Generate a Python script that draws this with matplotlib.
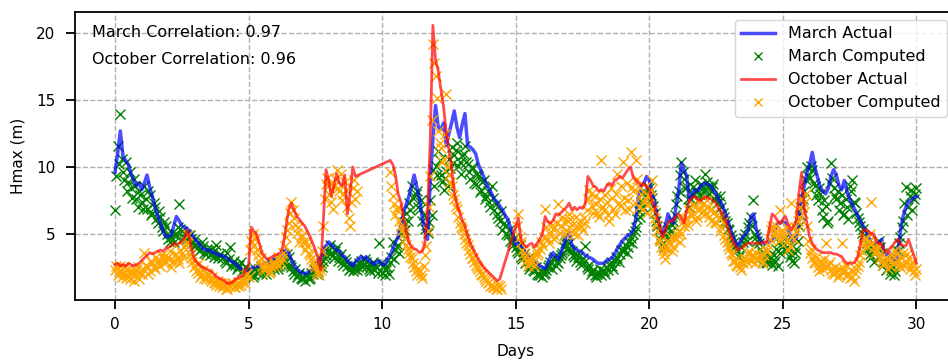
import numpy as np
import matplotlib
matplotlib.use("Agg")
import matplotlib.pyplot as plt

nan = np.nan

# Hmax (m), one value every 0.1 day (day 0.0 ... 30.0)
march_actual = [
    9.6, 11.0, 12.7, 10.8, 10.5, 10.2, 9.5, 9.0, 8.6, 8.8,
    8.3, 8.8, 9.4, 8.5, 7.8, 7.0, 6.4, 5.8, 5.2, 4.8,
    4.8, 4.9, 5.6, 6.3, 6.0, 5.6, 5.5, 5.4, 5.2, 4.9,
    4.6, 4.4, 4.1, 3.9, 3.8, 3.8, 3.7, 3.6, 3.5, 3.4,
    3.4, 3.3, 3.2, 3.0, 2.9, 2.8, 2.6, 2.4, 2.3, 2.2,
    2.1, 2.4, 2.5, 2.6, 2.6, 2.7, 2.8, 2.8, 2.9, 3.0,
    3.1, 3.2, 3.3, 3.5, 3.8, 3.6, 3.1, 2.7, 2.4, 2.2,
    2.1, 2.0, 2.1, 2.2, 2.4, 2.6, 2.9, 3.2, 3.7, 4.1,
    4.4, 4.2, 4.0, 3.8, 3.7, 3.4, 3.3, 3.0, 2.8, 2.6,
    2.9, 3.1, 3.3, 3.1, 3.3, 3.0, 2.9, 2.7, 2.9, 3.0,
    2.7, 2.7, 3.1, 3.4, 3.9, 4.4, 4.8, 5.6, 6.6, 7.2,
    7.8, 8.6, 9.4, 8.5, 7.6, 6.2, 5.2, 4.6, 9.0, 12.1,
    14.6, 13.0, 12.8, 13.3, 11.6, 12.5, 13.3, 14.2, 13.0, 12.2,
    13.2, 14.0, 11.6, 11.5, 11.3, 11.0, 10.2, 9.7, 9.3, 8.7,
    8.4, 8.0, 7.6, 7.4, 7.1, 6.8, 6.4, 6.1, 5.5, 4.9,
    4.2, 4.3, 4.0, 3.8, 3.5, 3.3, 3.1, 2.9, 2.8, 2.6,
    2.5, 2.4, 2.8, 3.3, 3.6, 3.3, 3.1, 3.6, 4.2, 4.9,
    5.1, 4.2, 3.9, 3.8, 3.7, 3.6, 3.4, 3.3, 3.2, 3.1,
    2.9, 2.8, 2.8, 2.8, 3.0, 3.1, 3.2, 3.5, 3.9, 4.2,
    4.5, 4.7, 4.9, 5.0, 5.3, 6.2, 7.8, 8.6, 8.8, 9.3,
    9.0, 8.1, 7.3, 6.3, 5.5, 4.8, 5.6, 6.5, 6.0, 5.8,
    7.0, 8.3, 10.3, 9.8, 9.3, 7.5, 7.9, 8.3, 8.2, 8.5,
    8.7, 8.8, 8.7, 8.6, 8.3, 8.0, 7.6, 7.3, 6.8, 6.3,
    5.6, 5.0, 4.5, 4.1, 4.4, 4.8, 5.0, 5.3, 6.3, 6.5,
    5.4, 4.8, 4.4, 4.3, 4.3, 4.5, 4.5, 5.3, 5.8, 5.8,
    5.9, 5.8, 5.2, 4.8, 4.4, 4.6, 6.0, 7.5, 8.6, 9.6,
    10.2, 11.1, 10.0, 9.2, 8.5, 8.2, 8.0, 8.4, 9.3, 9.8,
    9.4, 8.6, 8.3, 9.0, 8.2, 7.6, 7.2, 6.8, 6.4, 6.0,
    5.6, 5.3, 4.8, 4.3, 4.2, 4.1, 4.4, 4.6, 3.4, 3.4,
    3.6, 3.2, 2.8, 3.5, 5.2, 6.3, 7.0, 7.4, 7.5, 7.7,
    7.8,
]

october_actual = [
    2.7, 2.8, 2.6, 2.7, 2.6, 2.8, 2.7, 2.6, 2.7, 2.8,
    3.0, 3.2, 3.4, 3.6, 3.5, 3.6, 3.7, 3.8, 3.7, 3.9,
    4.0, 4.1, 4.3, 4.2, 4.3, 4.4, 4.7, 5.3, 4.6, 3.6,
    3.0, 2.8, 2.6, 2.5, 2.4, 2.3, 2.2, 2.0, 1.8, 1.7,
    1.6, 1.5, 1.3, 1.3, 1.4, 1.6, 1.7, 1.8, 1.9, 2.3,
    2.6, 5.5, 5.2, 5.0, 4.3, 3.6, 3.3, 3.1, 3.2, 3.3,
    3.4, 3.5, 3.6, 4.2, 5.5, 6.8, 7.3, 6.8, 6.3, 6.1,
    5.8, 5.6, 5.2, 4.8, 4.3, 3.8, 3.2, 2.3, 6.0, 9.8,
    9.0, 7.8, 8.6, 9.5, 8.8, 8.6, 9.4, 6.5, 8.0, 10.0,
    9.3, nan, nan, nan, nan, nan, nan, nan, nan, nan,
    nan, nan, nan, 10.5, 10.2, 9.4, 8.0, 7.4, 6.3, 5.2,
    4.4, 4.0, 3.9, 3.8, 3.6, 3.7, 4.3, 6.6, 12.0, 20.6,
    18.0, 17.2, 15.8, 14.5, 12.6, 11.3, 10.0, 8.1, 7.2, 6.6,
    6.0, 5.6, 4.9, 4.3, 3.9, 3.5, 3.1, 2.8, 2.5, 2.3,
    2.1, 1.9, 1.7, 1.5, 1.6, nan, nan, nan, nan, nan,
    nan, 6.2, 4.5, 4.2, 4.0, 4.2, 4.3, 4.0, 4.3, 4.6,
    5.0, 6.3, 5.9, 5.8, 6.0, 6.5, 6.4, 6.6, 6.8, 7.0,
    7.3, 6.8, 7.0, 6.8, 7.0, 6.9, 7.2, 9.3, 9.0, 8.6,
    8.5, 8.2, 8.3, 8.2, 8.6, 8.8, 8.6, 9.0, 9.1, 9.3,
    9.2, 9.5, 9.8, 10.0, 9.2, 9.0, 8.8, 8.6, 8.8, 8.5,
    8.3, 7.4, 7.0, 6.2, 5.5, 4.8, 5.3, 5.8, 6.0, 6.0,
    6.3, 6.5, 6.2, 5.8, 6.8, 7.5, 7.7, 7.8, 7.6, 7.5,
    7.6, 7.8, 7.7, 7.6, 7.5, 7.3, 6.9, 6.6, 6.2, 5.8,
    5.2, 4.6, 4.2, 3.8, 3.9, 4.0, 4.2, 4.3, 4.3, 4.3,
    4.3, 4.3, 4.3, 4.4, 4.4, 5.5, 6.5, 6.3, 6.0, 5.8,
    6.1, 6.3, 5.7, 5.3, 5.6, 6.0, 8.0, 9.6, 7.0, 5.8,
    4.8, 4.3, 4.0, 3.8, 3.7, 3.6, 3.6, 3.6, 3.6, 3.5,
    3.5, 3.4, 3.3, 3.0, 2.8, 2.8, 2.8, 2.9, 3.3, 4.2,
    5.3, 5.3, 5.2, 5.0, 5.0, 4.4, 4.3, 4.2, 3.8, 3.6,
    3.9, 4.1, 4.4, 4.6, 4.3, 4.1, 4.1, 4.6, 4.0, 3.4,
    2.8,
]

# computed Hmax, samples on the whole 0.1 day marks
march_computed = [
    6.8, 11.6, 14.0, 9.6, 10.4, 8.9, 8.4, 9.1, 7.6, 8.2,
    7.4, 8.6, 6.9, 7.9, 6.6, 7.0, 5.8, 6.3, 5.2, 5.6,
    4.6, 4.8, 4.4, 5.0, 7.2, 5.2, 4.8, 4.6, 4.9, 4.3,
    4.6, 4.0, 3.8, 4.1, 3.5, 3.7, 3.9, 3.3, 4.2, 3.4,
    3.2, 3.0, 3.6, 4.0, 2.8, 2.7, 2.5, 2.9, 2.3, 2.1,
    2.0, 2.1, 1.9, 2.2, 2.4, 2.0, 2.3, 2.6, 2.2, 2.5,
    2.7, 2.4, 2.9, 3.0, 2.6, 3.3, 2.5, 2.0, 1.8, 2.1,
    1.6, 1.5, 1.9, 1.7, 2.0, 2.3, 2.2, 2.8, 3.0, 3.4,
    3.8, 3.6, 3.2, 4.0, 3.3, 2.9, 3.1, 2.6, 2.4, 2.2,
    2.6, 2.5, 3.0, 2.7, 2.9, 2.4, 2.7, 2.3, 2.5, 4.3,
    2.1, 1.9, 2.5, 2.9, 4.4, 3.8, 4.2, 5.0, 5.9, 6.6,
    7.3, 8.6, 7.8, 8.2, 6.9, 6.0, 5.4, 5.1, 7.5, 9.8,
    10.1, 11.2, 9.4, 8.3, 9.7, 10.6, 11.5, 10.9, 11.8, 10.4,
    10.9, 11.6, 10.2, 9.1, 9.9, 8.7, 9.3, 8.3, 9.0, 7.8,
    7.4, 8.6, 6.8, 6.5, 6.0, 5.3, 5.6, 4.9, 4.5, 4.2,
    4.0, 3.6, 3.3, 3.5, 2.9, 2.4, 2.7, 2.2, 2.0, 1.9,
    1.8, 2.1, 2.5, 2.9, 3.1, 2.6, 2.8, 3.4, 4.0, 4.5,
    4.3, 3.7, 3.3, 3.5, 2.9, 3.2, 4.1, 2.4, 2.0, 2.3,
    1.8, 2.1, 1.9, 2.2, 2.5, 2.7, 2.6, 3.0, 3.2, 3.5,
    3.7, 4.2, 4.0, 4.7, 5.0, 5.5, 6.7, 7.4, 8.1, 8.5,
    8.4, 7.7, 6.6, 5.6, 4.6, 4.3, 4.9, 5.5, 5.2, 6.0,
    7.2, 8.2, 10.4, 9.1, 8.5, 7.0, 8.0, 9.0, 8.3, 8.0,
    8.4, 9.5, 8.6, 8.2, 8.7, 7.8, 7.4, 7.0, 6.3, 5.8,
    5.3, 4.6, 4.1, 3.8, 3.5, 4.4, 5.0, 5.5, 6.3, 7.5,
    4.8, 4.3, 3.6, 3.1, 2.8, 3.3, 2.7, 3.0, 2.6, 3.6,
    4.2, 3.8, 4.6, 3.5, 2.8, 3.9, 5.6, 7.0, 8.2, 10.0,
    9.2, 9.8, 8.6, 7.5, 8.0, 6.3, 7.1, 6.0, 10.3, 8.4,
    7.6, 6.8, 7.9, 6.5, 7.0, 8.6, 9.0, 7.3, 6.2, 5.6,
    5.4, 4.8, 3.9, 3.3, 2.9, 4.1, 4.5, 3.6, 3.0, 2.4,
    2.0, 2.6, 2.2, 3.7, 4.8, 6.0, 8.5, 7.0, 8.3, 7.6,
    8.4,
]

october_computed = [
    2.3, 1.9, 2.6, 2.1, 1.7, 2.4, 2.0, 1.5, 2.2, 1.6,
    2.0, 3.6, 2.5, 2.2, 2.8, 2.4, 3.0, 2.6, 3.2, 2.9,
    3.3, 2.5, 3.0, 3.5, 2.8, 3.6, 4.0, 4.4, 3.5, 2.9,
    2.6, 2.1, 1.8, 2.3, 1.6, 1.9, 1.5, 1.4, 1.2, 1.1,
    1.0, 1.2, 0.9, 1.1, 1.3, 1.0, 1.4, 1.2, 1.6, 1.9,
    1.8, 4.5, 4.2, 3.8, 3.0, 2.6, 2.3, 2.5, 2.2, 2.8,
    2.8, 3.3, 2.9, 3.6, 4.8, 5.8, 7.4, 6.2, 5.1, 4.4,
    4.9, 3.8, 4.1, 3.4, 2.9, 2.5, 2.1, 2.3, 5.6, 8.7,
    8.0, 7.4, 8.6, 9.8, 8.2, 7.5, 8.9, 7.0, 5.6, 8.4,
    7.6, nan, nan, nan, nan, nan, nan, nan, nan, nan,
    nan, nan, nan, 9.6, 7.8, 6.4, 7.0, 5.6, 5.0, 4.2,
    3.6, 3.2, 2.5, 1.9, 2.2, 1.7, 3.4, 5.2, 9.3, 19.2,
    16.8, 12.7, 11.4, 10.6, 15.5, 9.4, 8.6, 7.6, 6.9, 5.8,
    5.4, 4.6, 4.2, 3.5, 3.2, 2.7, 2.4, 2.0, 1.8, 1.5,
    1.4, 1.2, 1.0, 0.9, 1.1, nan, nan, nan, nan, nan,
    nan, 6.5, 4.4, 3.6, 3.0, 2.8, 3.3, 2.6, 3.4, 3.9,
    4.2, 6.9, 4.6, 5.0, 5.4, 4.8, 7.2, 5.6, 5.9, 5.3,
    6.5, 5.7, 5.0, 5.5, 6.0, 5.3, 5.8, 7.6, 8.0, 6.6,
    7.2, 6.3, 10.5, 6.8, 7.4, 6.0, 7.7, 6.5, 9.5, 7.1,
    10.4, 6.8, 7.5, 11.1, 8.2, 10.5, 7.0, 8.0, 7.4, 6.6,
    7.8, 9.0, 6.2, 5.2, 4.5, 3.8, 3.1, 4.3, 4.8, 4.0,
    4.6, 5.3, 5.0, 5.6, 6.2, 6.8, 6.4, 7.0, 6.3, 6.9,
    7.2, 6.5, 7.0, 6.0, 6.6, 5.8, 6.2, 5.5, 4.9, 4.4,
    3.9, 3.4, 3.0, 2.6, 2.5, 2.8, 3.2, 3.5, 3.0, 3.3,
    3.6, 3.1, 2.8, 3.4, 3.8, 4.6, 5.6, 5.2, 4.8, 6.8,
    5.0, 4.4, 3.8, 7.3, 4.6, 5.2, 6.3, 7.6, 7.3, 5.6,
    3.6, 3.2, 2.8, 2.5, 3.0, 2.4, 4.3, 2.7, 2.3, 2.0,
    2.2, 1.9, 4.3, 2.4, 2.0, 1.7, 1.8, 2.1, 2.6, 3.4,
    4.2, 4.7, 4.4, 7.4, 4.0, 3.8, 3.4, 3.0, 2.8, 3.1,
    2.6, 3.4, 3.8, 3.0, 2.5, 3.6, 2.9, 3.2, 2.7, 2.2,
    2.4,
]

# computed Hmax, samples in between (day 0.05, 0.15, ... 29.95)
march_computed_mid = [
    9.3, 10.2, 10.6, 9.0, 8.2, 9.6, 7.7, 8.6, 7.0, 7.9,
    6.9, 7.6, 8.2, 6.4, 7.3, 6.1, 6.7, 5.5, 5.9, 5.0,
    4.4, 5.1, 4.9, 5.5, 5.4, 4.7, 5.0, 4.3, 4.6, 4.1,
    4.2, 3.7, 4.4, 3.6, 3.9, 3.4, 3.6, 3.8, 3.2, 3.5,
    3.3, 2.8, 3.1, 2.6, 3.0, 2.4, 2.7, 2.2, 2.5, 1.9,
    2.3, 1.8, 2.4, 2.1, 2.6, 2.3, 2.0, 2.5, 2.8, 2.4,
    2.9, 2.6, 3.1, 2.8, 3.5, 2.7, 2.2, 2.4, 1.9, 1.7,
    1.8, 1.9, 1.6, 2.1, 2.4, 2.0, 2.6, 2.5, 3.2, 3.7,
    4.2, 3.4, 3.7, 3.0, 3.5, 2.7, 2.9, 2.3, 2.7, 2.4,
    2.3, 2.8, 2.5, 3.1, 2.6, 2.2, 2.9, 2.6, 2.1, 2.8,
    2.6, 2.3, 2.0, 3.3, 3.1, 4.0, 3.6, 4.5, 5.3, 6.0,
    6.8, 7.7, 8.0, 7.0, 7.5, 6.4, 5.7, 5.9, 6.4, 8.6,
    9.4, 10.5, 8.9, 9.2, 8.6, 9.9, 10.3, 11.3, 10.1, 9.5,
    11.0, 10.4, 9.6, 10.0, 8.8, 9.5, 8.1, 8.9, 7.6, 8.2,
    7.0, 7.7, 7.2, 6.2, 6.7, 5.8, 5.0, 5.3, 4.4, 4.7,
    3.7, 4.2, 3.1, 2.8, 3.2, 2.6, 2.3, 2.5, 1.9, 2.2,
    2.0, 2.3, 2.7, 2.4, 3.3, 2.9, 3.2, 3.6, 4.3, 3.9,
    3.8, 3.4, 3.0, 3.3, 2.7, 2.9, 2.5, 2.7, 2.2, 1.9,
    2.0, 2.4, 2.2, 2.0, 2.3, 2.9, 2.4, 3.3, 2.9, 3.8,
    3.9, 3.6, 4.4, 4.3, 5.2, 6.1, 6.3, 7.0, 7.8, 8.0,
    7.9, 7.1, 6.0, 5.3, 4.9, 4.0, 4.6, 5.0, 5.7, 6.4,
    7.8, 9.4, 9.6, 8.4, 7.6, 7.6, 8.5, 8.1, 7.6, 8.7,
    8.1, 8.9, 8.0, 8.5, 7.6, 7.3, 7.8, 6.6, 6.0, 5.4,
    4.9, 4.3, 3.7, 3.3, 4.0, 4.7, 4.5, 5.8, 5.6, 5.0,
    4.5, 3.9, 3.3, 2.9, 3.2, 2.9, 3.4, 3.9, 4.4, 4.0,
    4.6, 4.0, 3.3, 3.0, 3.6, 4.5, 6.4, 7.6, 9.0, 9.3,
    10.1, 8.8, 7.9, 8.4, 6.8, 7.5, 5.8, 8.8, 9.2, 7.8,
    8.2, 7.3, 6.4, 7.6, 6.1, 8.2, 7.4, 6.6, 5.9, 5.1,
    4.9, 4.3, 3.5, 4.0, 3.6, 3.3, 4.0, 2.7, 2.3, 2.8,
    2.3, 1.9, 3.0, 4.3, 5.5, 7.3, 6.4, 7.8, 6.8, 8.0,
]

october_computed_mid = [
    2.6, 2.2, 1.8, 2.5, 2.0, 1.6, 2.3, 1.9, 2.5, 2.1,
    2.4, 2.7, 2.0, 3.0, 2.5, 3.3, 2.7, 3.4, 2.8, 3.2,
    3.7, 2.9, 3.4, 3.1, 3.8, 3.3, 4.2, 4.9, 3.2, 2.5,
    2.2, 2.8, 2.0, 1.7, 2.1, 1.6, 1.8, 1.3, 1.5, 1.3,
    1.2, 0.9, 1.1, 1.3, 1.0, 1.2, 1.1, 1.4, 1.3, 2.1,
    3.8, 5.0, 4.6, 3.4, 3.2, 2.4, 2.7, 2.1, 2.5, 2.6,
    3.1, 2.7, 3.2, 4.1, 5.3, 6.6, 6.8, 5.7, 5.5, 4.8,
    4.4, 4.4, 3.6, 3.1, 2.7, 2.2, 1.9, 3.7, 7.6, 9.2,
    8.7, 6.9, 9.1, 8.4, 9.5, 8.0, 8.3, 6.2, 7.4, 9.0,
    8.2, nan, nan, nan, nan, nan, nan, nan, nan, nan,
    nan, nan, nan, 8.6, 7.2, 6.8, 6.0, 5.3, 4.6, 3.9,
    3.3, 2.8, 2.2, 2.4, 1.9, 2.6, 4.1, 7.0, 13.5, 17.8,
    15.2, 11.8, 10.4, 12.5, 10.0, 8.9, 7.9, 7.1, 6.3, 5.5,
    5.0, 4.3, 3.8, 3.2, 2.9, 2.5, 2.2, 1.9, 1.6, 1.3,
    1.1, 1.0, 0.9, 1.2, 0.9, nan, nan, nan, nan, nan,
    5.6, 4.8, 3.8, 3.3, 2.6, 3.1, 2.9, 3.7, 3.6, 4.4,
    4.8, 5.5, 4.3, 5.7, 4.6, 5.8, 5.1, 6.3, 5.0, 6.0,
    6.1, 5.3, 6.3, 4.9, 5.6, 6.2, 6.8, 8.3, 7.1, 7.8,
    6.6, 7.6, 7.0, 7.9, 6.4, 8.4, 6.9, 8.0, 7.3, 8.6,
    7.7, 8.8, 6.9, 8.5, 7.3, 9.1, 8.4, 6.9, 7.7, 7.2,
    8.3, 6.8, 5.7, 4.6, 4.0, 3.5, 3.9, 4.4, 3.7, 4.7,
    5.0, 4.4, 5.9, 6.1, 5.7, 6.4, 7.2, 6.0, 7.4, 6.6,
    6.8, 7.5, 6.3, 6.9, 5.9, 6.4, 5.2, 5.9, 4.6, 4.1,
    3.6, 3.0, 2.7, 2.9, 2.3, 3.1, 2.9, 3.7, 3.4, 2.8,
    3.2, 3.4, 3.0, 3.7, 4.2, 5.3, 4.9, 5.6, 4.5, 5.3,
    4.8, 5.5, 4.1, 4.8, 5.5, 6.0, 7.0, 6.6, 8.0, 4.5,
    3.9, 2.9, 3.3, 2.2, 2.7, 3.1, 2.5, 2.9, 2.1, 2.5,
    1.8, 2.4, 2.1, 2.7, 1.9, 2.3, 1.5, 2.4, 2.9, 3.7,
    4.6, 4.1, 5.0, 4.3, 3.6, 4.1, 3.2, 2.7, 3.3, 2.4,
    3.0, 2.8, 3.5, 2.7, 3.2, 2.6, 3.5, 2.4, 2.9, 1.9,
]

march_corr = 0.97
october_corr = 0.96


def days_for(values, offset=0.0):
    # samples are 0.1 day apart
    return offset + np.arange(len(values)) / 10.0


def computed_points(whole, mid):
    w = np.array(whole)
    m = np.array(mid)
    d = np.concatenate([days_for(w), days_for(m, 0.05)])
    v = np.concatenate([w, m])
    ok = ~np.isnan(v)
    return d[ok], v[ok]


ma = np.array(march_actual)
oa = np.array(october_actual)

fig = plt.figure(figsize=(9.48, 3.62), dpi=100)
ax = fig.add_axes([0.079, 0.171, 0.930, 0.796])

ms = 6.5
d, v = computed_points(march_computed, march_computed_mid)
ax.plot(d, v, 'x', color='green', markersize=ms, markeredgewidth=1.0, zorder=2)
l1, = ax.plot(days_for(ma), ma, color='blue', linewidth=2.5, alpha=0.7, zorder=3)

d, v = computed_points(october_computed, october_computed_mid)
ax.plot(d, v, 'x', color='orange', markersize=ms, markeredgewidth=1.0, zorder=4)
d = days_for(oa)
ok = ~np.isnan(oa)
l3, = ax.plot(d[ok], oa[ok], color='red', linewidth=2.0, alpha=0.7, zorder=5)

# legend handles in the reference order
h_mc, = ax.plot([], [], 'x', color='green', markersize=6)
h_oc, = ax.plot([], [], 'x', color='orange', markersize=6)
ax.legend([l1, h_mc, l3, h_oc],
          ['March Actual', 'March Computed', 'October Actual', 'October Computed'],
          loc='upper right', bbox_to_anchor=(0.9887, 0.972), borderaxespad=0,
          fontsize=11.5, handlelength=2.1, labelspacing=0.5)

ax.text(0.019, 0.93, f'March Correlation: {march_corr:.2f}', transform=ax.transAxes,
        fontsize=11.5, va='center')
ax.text(0.019, 0.835, f'October Correlation: {october_corr:.2f}', transform=ax.transAxes,
        fontsize=11.5, va='center')

ax.set_xlim(-1.5, 31.5)
ax.set_ylim(0.05, 21.6)
ax.set_xticks([0, 5, 10, 15, 20, 25, 30])
ax.set_yticks([5, 10, 15, 20])
ax.tick_params(labelsize=11, length=6.5, width=1.3, pad=5.5)
ax.tick_params(axis='y', pad=7.5)
ax.set_xlabel('Days', fontsize=11, labelpad=9)
ax.set_ylabel('Hmax (m)', fontsize=11, labelpad=8)
ax.grid(True, linestyle='--', color='#b0b0b0', linewidth=1)
for s in ax.spines.values():
    s.set_linewidth(1.3)

fig.savefig('out.png', dpi=100)
